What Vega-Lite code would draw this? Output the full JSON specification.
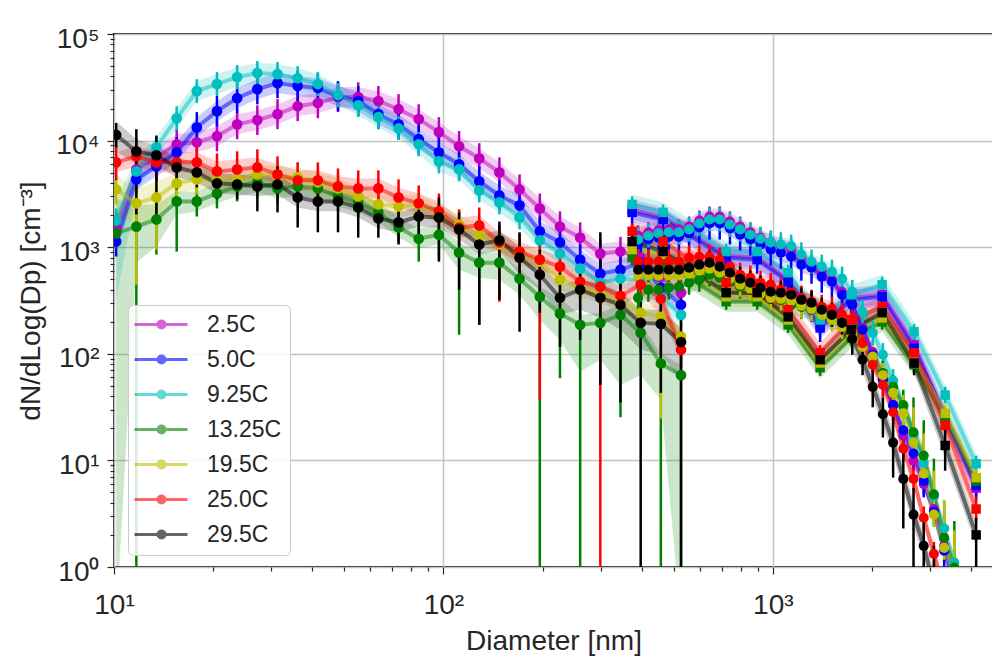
{
"$schema":"https://vega.github.io/schema/vega-lite/v6.json",
"width":879,"height":533,
"autosize":{"type":"none"},
"padding":{"left":114,"top":34,"right":0,"bottom":89},
"background":"white",
"config":{"view":{"stroke":"#262626","strokeWidth":2},"font":"Liberation Sans","axis":{"domain":false}},
"datasets":{"d":[
{"s":"2.5C","k":"a","x":10.15,"y":1500,"l":1080,"h":2070,"b0":1200,"b1":1860},
{"s":"2.5C","k":"a","x":11.69,"y":5370,"l":3880,"h":7430,"b0":4330,"b1":6670},
{"s":"2.5C","k":"a","x":13.45,"y":7120,"l":5140,"h":9870,"b0":5730,"b1":8840},
{"s":"2.5C","k":"a","x":15.5,"y":9230,"l":6670,"h":12800,"b0":7430,"b1":11500},
{"s":"2.5C","k":"a","x":17.84,"y":9650,"l":6960,"h":13300,"b0":7760,"b1":12000},
{"s":"2.5C","k":"a","x":20.54,"y":11000,"l":7930,"h":15200,"b0":8840,"b1":13600},
{"s":"2.5C","k":"a","x":23.65,"y":14200,"l":10300,"h":19700,"b0":11500,"b1":17700},
{"s":"2.5C","k":"a","x":27.24,"y":15600,"l":11300,"h":21400,"b0":12500,"b1":19300},
{"s":"2.5C","k":"a","x":31.36,"y":17700,"l":12800,"h":24500,"b0":14200,"b1":21900},
{"s":"2.5C","k":"a","x":36.11,"y":21000,"l":15200,"h":29100,"b0":17000,"b1":26200},
{"s":"2.5C","k":"a","x":41.58,"y":22500,"l":16200,"h":31100,"b0":18100,"b1":27900},
{"s":"2.5C","k":"a","x":47.87,"y":25600,"l":18500,"h":35300,"b0":20500,"b1":31800},
{"s":"2.5C","k":"a","x":55.13,"y":25600,"l":18500,"h":35300,"b0":20500,"b1":31800},
{"s":"2.5C","k":"a","x":63.47,"y":23500,"l":17000,"h":32500,"b0":18900,"b1":29100},
{"s":"2.5C","k":"a","x":73.09,"y":19700,"l":14200,"h":27300,"b0":15900,"b1":24500},
{"s":"2.5C","k":"a","x":84.16,"y":15900,"l":11500,"h":21900,"b0":12800,"b1":19700},
{"s":"2.5C","k":"a","x":96.91,"y":12000,"l":8650,"h":16600,"b0":9650,"b1":14900},
{"s":"2.5C","k":"a","x":111.6,"y":8840,"l":6390,"h":12300,"b0":7120,"b1":11000},
{"s":"2.5C","k":"a","x":128.5,"y":6810,"l":4920,"h":9450,"b0":5480,"b1":8460},
{"s":"2.5C","k":"a","x":147.9,"y":5030,"l":3640,"h":6960,"b0":4060,"b1":6250},
{"s":"2.5C","k":"a","x":170.3,"y":3480,"l":2520,"h":4820,"b0":2810,"b1":4330},
{"s":"2.5C","k":"a","x":196.2,"y":2310,"l":1670,"h":3190,"b0":1860,"b1":2870},
{"s":"2.5C","k":"a","x":225.9,"y":1560,"l":1130,"h":2170,"b0":1250,"b1":1940},
{"s":"2.5C","k":"a","x":260.1,"y":1230,"l":890,"h":1710,"b0":995,"b1":1530},
{"s":"2.5C","k":"a","x":299.5,"y":871,"l":629,"h":1200,"b0":701,"b1":1080},
{"s":"2.5C","k":"a","x":344.8,"y":910,"l":657,"h":1250,"b0":732,"b1":1130},
{"s":"2.5C","k":"a","x":397.1,"y":799,"l":576,"h":1110,"b0":643,"b1":995},
{"s":"2.5C","k":"a","x":457.2,"y":529,"l":382,"h":732,"b0":426,"b1":657},
{"s":"2.5C","k":"a","x":526.5,"y":374,"l":270,"h":517,"b0":301,"b1":464},
{"s":"2.5C","k":"b","x":390,"y":1280,"l":1040,"h":1600,"b0":1080,"b1":1530},
{"s":"2.5C","k":"b","x":419,"y":1380,"l":1110,"h":1710,"b0":1160,"b1":1630},
{"s":"2.5C","k":"b","x":449.8,"y":1440,"l":1160,"h":1780,"b0":1200,"b1":1710},
{"s":"2.5C","k":"b","x":483.1,"y":1470,"l":1180,"h":1820,"b0":1230,"b1":1740},
{"s":"2.5C","k":"b","x":518.8,"y":1470,"l":1180,"h":1820,"b0":1230,"b1":1740},
{"s":"2.5C","k":"b","x":557,"y":1560,"l":1250,"h":1940,"b0":1310,"b1":1860},
{"s":"2.5C","k":"b","x":598.3,"y":1780,"l":1440,"h":2210,"b0":1500,"b1":2120},
{"s":"2.5C","k":"b","x":642.6,"y":1940,"l":1560,"h":2410,"b0":1630,"b1":2310},
{"s":"2.5C","k":"b","x":690,"y":1940,"l":1560,"h":2410,"b0":1630,"b1":2310},
{"s":"2.5C","k":"b","x":741.1,"y":1740,"l":1410,"h":2170,"b0":1470,"b1":2070},
{"s":"2.5C","k":"b","x":795.8,"y":1560,"l":1250,"h":1940,"b0":1310,"b1":1860},
{"s":"2.5C","k":"b","x":854.5,"y":1380,"l":1110,"h":1710,"b0":1160,"b1":1630},
{"s":"2.5C","k":"b","x":917.6,"y":1230,"l":995,"h":1530,"b0":1040,"b1":1470},
{"s":"2.5C","k":"b","x":985.6,"y":1110,"l":890,"h":1380,"b0":930,"b1":1310},
{"s":"2.5C","k":"b","x":1058,"y":1020,"l":817,"h":1250,"b0":853,"b1":1200},
{"s":"2.5C","k":"b","x":1137,"y":950,"l":764,"h":1180,"b0":799,"b1":1130},
{"s":"2.5C","k":"b","x":1221,"y":799,"l":643,"h":995,"b0":672,"b1":950},
{"s":"2.5C","k":"b","x":1311,"y":672,"l":540,"h":835,"b0":564,"b1":799},
{"s":"2.5C","k":"b","x":1408,"y":589,"l":474,"h":732,"b0":495,"b1":701},
{"s":"2.5C","k":"b","x":1512,"y":495,"l":399,"h":615,"b0":417,"b1":589},
{"s":"2.5C","k":"b","x":1623,"y":382,"l":308,"h":474,"b0":321,"b1":454},
{"s":"2.5C","k":"b","x":1743,"y":288,"l":232,"h":358,"b0":243,"b1":343},
{"s":"2.5C","k":"b","x":1873,"y":175,"l":141,"h":217,"b0":148,"b1":208},
{"s":"2.5C","k":"b","x":2011,"y":104,"l":84,"h":129,"b0":88,"b1":124},
{"s":"2.5C","k":"b","x":2159,"y":59,"l":48,"h":74,"b0":50,"b1":71},
{"s":"2.5C","k":"b","x":2319,"y":33,"l":26.5,"h":41,"b0":27.6,"b1":39},
{"s":"2.5C","k":"b","x":2490,"y":17.1,"l":13.8,"h":21.3,"b0":14.4,"b1":20.4},
{"s":"2.5C","k":"b","x":2674,"y":9.9,"l":8.0,"h":12.3,"b0":8.3,"b1":11.8},
{"s":"2.5C","k":"b","x":2872,"y":6.0,"l":4.8,"h":7.5,"b0":5.1,"b1":7.2},
{"s":"2.5C","k":"b","x":3084,"y":3.5,"l":2.8,"h":4.3,"b0":2.9,"b1":4.2},
{"s":"2.5C","k":"b","x":3313,"y":1.58,"l":1.27,"h":1.96,"b0":1.33,"b1":1.88},
{"s":"2.5C","k":"b","x":3557,"y":0.75,"l":0.6,"h":0.93,"b0":0.62,"b1":0.89},
{"s":"2.5C","k":"c","x":374,"y":2260,"l":1900,"h":2690,"b0":1820,"b1":2810},
{"s":"2.5C","k":"c","x":464.5,"y":1900,"l":1600,"h":2260,"b0":1530,"b1":2360},
{"s":"2.5C","k":"c","x":721.8,"y":835,"l":701,"h":995,"b0":672,"b1":1040},
{"s":"2.5C","k":"c","x":896.4,"y":799,"l":672,"h":950,"b0":643,"b1":995},
{"s":"2.5C","k":"c","x":1113,"y":495,"l":417,"h":589,"b0":399,"b1":615},
{"s":"2.5C","k":"c","x":1392,"y":187,"l":157,"h":222,"b0":151,"b1":232},
{"s":"2.5C","k":"c","x":1729,"y":335,"l":282,"h":399,"b0":270,"b1":417},
{"s":"2.5C","k":"c","x":2147,"y":358,"l":301,"h":426,"b0":288,"b1":445},
{"s":"2.5C","k":"c","x":2685,"y":121,"l":102,"h":145,"b0":98,"b1":151},
{"s":"2.5C","k":"c","x":3336,"y":24.8,"l":20.9,"h":29.5,"b0":20,"b1":30.8},
{"s":"2.5C","k":"c","x":4143,"y":5.5,"l":4.6,"h":6.6,"b0":4.4,"b1":6.9},
{"s":"5.0C","k":"a","x":10.15,"y":1130,"l":817,"h":1560,"b0":910,"b1":1410},
{"s":"5.0C","k":"a","x":11.69,"y":4330,"l":3130,"h":5980,"b0":3480,"b1":5370},
{"s":"5.0C","k":"a","x":13.45,"y":5730,"l":4150,"h":7930,"b0":4620,"b1":7120},
{"s":"5.0C","k":"a","x":15.5,"y":7760,"l":5600,"h":10800,"b0":6250,"b1":9650},
{"s":"5.0C","k":"a","x":17.84,"y":13300,"l":9650,"h":18500,"b0":10800,"b1":16600},
{"s":"5.0C","k":"a","x":20.54,"y":18900,"l":13600,"h":26200,"b0":15200,"b1":23500},
{"s":"5.0C","k":"a","x":23.65,"y":25000,"l":18100,"h":34600,"b0":20100,"b1":31100},
{"s":"5.0C","k":"a","x":27.24,"y":30400,"l":21900,"h":42000,"b0":24500,"b1":37700},
{"s":"5.0C","k":"a","x":31.36,"y":34600,"l":25000,"h":47900,"b0":27900,"b1":43000},
{"s":"5.0C","k":"a","x":36.11,"y":32500,"l":23500,"h":44900,"b0":26200,"b1":40200},
{"s":"5.0C","k":"a","x":41.58,"y":31100,"l":22500,"h":43000,"b0":25000,"b1":38500},
{"s":"5.0C","k":"a","x":47.87,"y":26200,"l":18900,"h":36100,"b0":21000,"b1":32500},
{"s":"5.0C","k":"a","x":55.13,"y":23500,"l":17000,"h":32500,"b0":18900,"b1":29100},
{"s":"5.0C","k":"a","x":63.47,"y":17700,"l":12800,"h":24500,"b0":14200,"b1":21900},
{"s":"5.0C","k":"a","x":73.09,"y":14200,"l":10300,"h":19700,"b0":11500,"b1":17700},
{"s":"5.0C","k":"a","x":84.16,"y":10300,"l":7430,"h":14200,"b0":8280,"b1":12800},
{"s":"5.0C","k":"a","x":96.91,"y":7760,"l":5600,"h":10800,"b0":6250,"b1":9650},
{"s":"5.0C","k":"a","x":111.6,"y":5980,"l":4330,"h":8280,"b0":4820,"b1":7430},
{"s":"5.0C","k":"a","x":128.5,"y":4150,"l":3000,"h":5730,"b0":3330,"b1":5140},
{"s":"5.0C","k":"a","x":147.9,"y":3060,"l":2210,"h":4240,"b0":2470,"b1":3800},
{"s":"5.0C","k":"a","x":170.3,"y":2470,"l":1780,"h":3410,"b0":1990,"b1":3060},
{"s":"5.0C","k":"a","x":196.2,"y":1410,"l":1020,"h":1940,"b0":1130,"b1":1740},
{"s":"5.0C","k":"a","x":225.9,"y":1110,"l":799,"h":1530,"b0":890,"b1":1380},
{"s":"5.0C","k":"a","x":260.1,"y":764,"l":552,"h":1060,"b0":615,"b1":950},
{"s":"5.0C","k":"a","x":299.5,"y":564,"l":408,"h":782,"b0":454,"b1":701},
{"s":"5.0C","k":"a","x":344.8,"y":615,"l":445,"h":853,"b0":495,"b1":764},
{"s":"5.0C","k":"a","x":397.1,"y":716,"l":517,"h":995,"b0":576,"b1":890},
{"s":"5.0C","k":"a","x":457.2,"y":417,"l":301,"h":576,"b0":335,"b1":517},
{"s":"5.0C","k":"a","x":526.5,"y":288,"l":208,"h":399,"b0":232,"b1":358},
{"s":"5.0C","k":"b","x":390,"y":1060,"l":748,"h":1250,"b0":890,"b1":1250},
{"s":"5.0C","k":"b","x":419,"y":1180,"l":835,"h":1410,"b0":995,"b1":1410},
{"s":"5.0C","k":"b","x":449.8,"y":1230,"l":871,"h":1470,"b0":1040,"b1":1470},
{"s":"5.0C","k":"b","x":483.1,"y":1250,"l":890,"h":1500,"b0":1060,"b1":1500},
{"s":"5.0C","k":"b","x":518.8,"y":1250,"l":890,"h":1500,"b0":1060,"b1":1500},
{"s":"5.0C","k":"b","x":557,"y":1350,"l":950,"h":1600,"b0":1130,"b1":1600},
{"s":"5.0C","k":"b","x":598.3,"y":1530,"l":1080,"h":1820,"b0":1280,"b1":1820},
{"s":"5.0C","k":"b","x":642.6,"y":1670,"l":1180,"h":1990,"b0":1410,"b1":1990},
{"s":"5.0C","k":"b","x":690,"y":1670,"l":1180,"h":1990,"b0":1410,"b1":1990},
{"s":"5.0C","k":"b","x":741.1,"y":1500,"l":1060,"h":1780,"b0":1250,"b1":1780},
{"s":"5.0C","k":"b","x":795.8,"y":1310,"l":930,"h":1560,"b0":1110,"b1":1560},
{"s":"5.0C","k":"b","x":854.5,"y":1180,"l":835,"h":1410,"b0":995,"b1":1410},
{"s":"5.0C","k":"b","x":917.6,"y":1060,"l":748,"h":1250,"b0":890,"b1":1250},
{"s":"5.0C","k":"b","x":985.6,"y":950,"l":672,"h":1130,"b0":799,"b1":1130},
{"s":"5.0C","k":"b","x":1058,"y":890,"l":629,"h":1060,"b0":748,"b1":1060},
{"s":"5.0C","k":"b","x":1137,"y":817,"l":576,"h":974,"b0":686,"b1":974},
{"s":"5.0C","k":"b","x":1221,"y":686,"l":485,"h":817,"b0":576,"b1":817},
{"s":"5.0C","k":"b","x":1311,"y":643,"l":454,"h":764,"b0":540,"b1":764},
{"s":"5.0C","k":"b","x":1408,"y":529,"l":374,"h":629,"b0":445,"b1":629},
{"s":"5.0C","k":"b","x":1512,"y":474,"l":335,"h":564,"b0":399,"b1":564},
{"s":"5.0C","k":"b","x":1623,"y":358,"l":254,"h":426,"b0":301,"b1":426},
{"s":"5.0C","k":"b","x":1743,"y":288,"l":204,"h":343,"b0":243,"b1":343},
{"s":"5.0C","k":"b","x":1873,"y":168,"l":118,"h":199,"b0":141,"b1":199},
{"s":"5.0C","k":"b","x":2011,"y":98,"l":69,"h":116,"b0":82,"b1":116},
{"s":"5.0C","k":"b","x":2159,"y":57,"l":40,"h":68,"b0":48,"b1":68},
{"s":"5.0C","k":"b","x":2319,"y":33,"l":23.3,"h":39,"b0":27.6,"b1":39},
{"s":"5.0C","k":"b","x":2490,"y":19.1,"l":13.5,"h":22.8,"b0":16.0,"b1":22.8},
{"s":"5.0C","k":"b","x":2674,"y":11.6,"l":8.2,"h":13.8,"b0":9.7,"b1":13.8},
{"s":"5.0C","k":"b","x":2872,"y":6.4,"l":4.5,"h":7.6,"b0":5.4,"b1":7.6},
{"s":"5.0C","k":"b","x":3084,"y":3.3,"l":2.4,"h":4.0,"b0":2.8,"b1":4.0},
{"s":"5.0C","k":"b","x":3313,"y":1.42,"l":1.01,"h":1.68,"b0":1.22,"b1":1.68},
{"s":"5.0C","k":"b","x":3557,"y":0.67,"l":0.5,"h":0.8,"b0":0.6,"b1":0.8},
{"s":"5.0C","k":"c","x":374,"y":2120,"l":1560,"h":2360,"b0":1710,"b1":2630},
{"s":"5.0C","k":"c","x":464.5,"y":1820,"l":1350,"h":2030,"b0":1470,"b1":2260},
{"s":"5.0C","k":"c","x":721.8,"y":799,"l":589,"h":890,"b0":643,"b1":995},
{"s":"5.0C","k":"c","x":896.4,"y":764,"l":564,"h":853,"b0":615,"b1":950},
{"s":"5.0C","k":"c","x":1113,"y":474,"l":350,"h":529,"b0":382,"b1":589},
{"s":"5.0C","k":"c","x":1392,"y":175,"l":129,"h":195,"b0":141,"b1":217},
{"s":"5.0C","k":"c","x":1729,"y":321,"l":238,"h":358,"b0":259,"b1":399},
{"s":"5.0C","k":"c","x":2147,"y":343,"l":254,"h":382,"b0":276,"b1":426},
{"s":"5.0C","k":"c","x":2685,"y":113,"l":84,"h":126,"b0":92,"b1":141},
{"s":"5.0C","k":"c","x":3336,"y":26.5,"l":19.5,"h":29.5,"b0":21.3,"b1":33},
{"s":"5.0C","k":"c","x":4143,"y":5.8,"l":4.2,"h":6.4,"b0":4.6,"b1":7.2},
{"s":"9.25C","k":"a","x":10.15,"y":1780,"l":1380,"h":2310,"b0":321,"b1":2810},
{"s":"9.25C","k":"a","x":11.69,"y":5140,"l":3970,"h":6670,"b0":3130,"b1":6670},
{"s":"9.25C","k":"a","x":13.45,"y":8650,"l":6670,"h":11300,"b0":6960,"b1":10800},
{"s":"9.25C","k":"a","x":15.5,"y":16200,"l":12500,"h":21000,"b0":13000,"b1":20100},
{"s":"9.25C","k":"a","x":17.84,"y":29100,"l":22500,"h":37700,"b0":23500,"b1":36100},
{"s":"9.25C","k":"a","x":20.54,"y":33900,"l":26200,"h":43900,"b0":27300,"b1":42000},
{"s":"9.25C","k":"a","x":23.65,"y":39400,"l":30400,"h":51100,"b0":31800,"b1":49000},
{"s":"9.25C","k":"a","x":27.24,"y":43000,"l":33200,"h":55800,"b0":34600,"b1":53400},
{"s":"9.25C","k":"a","x":31.36,"y":42000,"l":32500,"h":54600,"b0":33900,"b1":52300},
{"s":"9.25C","k":"a","x":36.11,"y":38500,"l":29800,"h":50000,"b0":31100,"b1":47900},
{"s":"9.25C","k":"a","x":41.58,"y":33900,"l":26200,"h":43900,"b0":27300,"b1":42000},
{"s":"9.25C","k":"a","x":47.87,"y":26700,"l":20500,"h":34600,"b0":21400,"b1":33200},
{"s":"9.25C","k":"a","x":55.13,"y":21400,"l":16600,"h":27900,"b0":17300,"b1":26700},
{"s":"9.25C","k":"a","x":63.47,"y":16600,"l":12800,"h":21400,"b0":13300,"b1":20500},
{"s":"9.25C","k":"a","x":73.09,"y":13000,"l":10100,"h":17000,"b0":10500,"b1":16200},
{"s":"9.25C","k":"a","x":84.16,"y":9230,"l":7120,"h":12000,"b0":7430,"b1":11500},
{"s":"9.25C","k":"a","x":96.91,"y":6390,"l":4920,"h":8280,"b0":5140,"b1":7930},
{"s":"9.25C","k":"a","x":111.6,"y":5370,"l":4150,"h":6960,"b0":4330,"b1":6670},
{"s":"9.25C","k":"a","x":128.5,"y":3410,"l":2630,"h":4420,"b0":2750,"b1":4240},
{"s":"9.25C","k":"a","x":147.9,"y":2630,"l":2030,"h":3410,"b0":2120,"b1":3260},
{"s":"9.25C","k":"a","x":170.3,"y":1900,"l":1470,"h":2470,"b0":1530,"b1":2360},
{"s":"9.25C","k":"a","x":196.2,"y":1160,"l":890,"h":1500,"b0":930,"b1":1440},
{"s":"9.25C","k":"a","x":225.9,"y":871,"l":672,"h":1130,"b0":701,"b1":1080},
{"s":"9.25C","k":"a","x":260.1,"y":629,"l":485,"h":817,"b0":506,"b1":782},
{"s":"9.25C","k":"a","x":299.5,"y":464,"l":358,"h":602,"b0":374,"b1":576},
{"s":"9.25C","k":"a","x":344.8,"y":506,"l":391,"h":657,"b0":408,"b1":629},
{"s":"9.25C","k":"a","x":397.1,"y":495,"l":382,"h":643,"b0":399,"b1":615},
{"s":"9.25C","k":"a","x":457.2,"y":335,"l":259,"h":436,"b0":270,"b1":417},
{"s":"9.25C","k":"a","x":526.5,"y":232,"l":179,"h":301,"b0":187,"b1":288},
{"s":"9.25C","k":"b","x":390,"y":1180,"l":910,"h":1530,"b0":995,"b1":1410},
{"s":"9.25C","k":"b","x":419,"y":1280,"l":995,"h":1670,"b0":1080,"b1":1530},
{"s":"9.25C","k":"b","x":449.8,"y":1350,"l":1040,"h":1740,"b0":1130,"b1":1600},
{"s":"9.25C","k":"b","x":483.1,"y":1380,"l":1060,"h":1780,"b0":1160,"b1":1630},
{"s":"9.25C","k":"b","x":518.8,"y":1380,"l":1060,"h":1780,"b0":1160,"b1":1630},
{"s":"9.25C","k":"b","x":557,"y":1470,"l":1130,"h":1900,"b0":1230,"b1":1740},
{"s":"9.25C","k":"b","x":598.3,"y":1670,"l":1280,"h":2170,"b0":1410,"b1":1990},
{"s":"9.25C","k":"b","x":642.6,"y":1820,"l":1410,"h":2360,"b0":1530,"b1":2170},
{"s":"9.25C","k":"b","x":690,"y":1820,"l":1410,"h":2360,"b0":1530,"b1":2170},
{"s":"9.25C","k":"b","x":741.1,"y":1630,"l":1250,"h":2120,"b0":1380,"b1":1940},
{"s":"9.25C","k":"b","x":795.8,"y":1470,"l":1130,"h":1900,"b0":1230,"b1":1740},
{"s":"9.25C","k":"b","x":854.5,"y":1310,"l":1020,"h":1710,"b0":1110,"b1":1560},
{"s":"9.25C","k":"b","x":917.6,"y":1200,"l":930,"h":1560,"b0":1020,"b1":1440},
{"s":"9.25C","k":"b","x":985.6,"y":1110,"l":853,"h":1440,"b0":930,"b1":1310},
{"s":"9.25C","k":"b","x":1058,"y":1060,"l":817,"h":1380,"b0":890,"b1":1250},
{"s":"9.25C","k":"b","x":1137,"y":1020,"l":782,"h":1310,"b0":853,"b1":1200},
{"s":"9.25C","k":"b","x":1221,"y":853,"l":657,"h":1110,"b0":716,"b1":1020},
{"s":"9.25C","k":"b","x":1311,"y":732,"l":564,"h":950,"b0":615,"b1":871},
{"s":"9.25C","k":"b","x":1408,"y":657,"l":506,"h":853,"b0":552,"b1":782},
{"s":"9.25C","k":"b","x":1512,"y":589,"l":454,"h":764,"b0":495,"b1":701},
{"s":"9.25C","k":"b","x":1623,"y":506,"l":391,"h":657,"b0":426,"b1":602},
{"s":"9.25C","k":"b","x":1743,"y":382,"l":294,"h":495,"b0":321,"b1":454},
{"s":"9.25C","k":"b","x":1873,"y":248,"l":191,"h":321,"b0":208,"b1":294},
{"s":"9.25C","k":"b","x":2011,"y":157,"l":121,"h":204,"b0":132,"b1":187},
{"s":"9.25C","k":"b","x":2159,"y":98,"l":76,"h":126,"b0":82,"b1":116},
{"s":"9.25C","k":"b","x":2319,"y":56,"l":43,"h":72,"b0":47,"b1":66},
{"s":"9.25C","k":"b","x":2490,"y":31.5,"l":24.3,"h":41,"b0":26.5,"b1":37.6},
{"s":"9.25C","k":"b","x":2674,"y":17.1,"l":13.2,"h":22.3,"b0":14.4,"b1":20.4},
{"s":"9.25C","k":"b","x":2872,"y":9.5,"l":7.5,"h":12.3,"b0":8.0,"b1":11.3},
{"s":"9.25C","k":"b","x":3084,"y":4.6,"l":3.6,"h":6.0,"b0":3.9,"b1":5.5},
{"s":"9.25C","k":"b","x":3313,"y":2.3,"l":1.76,"h":2.9,"b0":1.92,"b1":2.7},
{"s":"9.25C","k":"b","x":3557,"y":1.1,"l":0.85,"h":1.42,"b0":0.93,"b1":1.3},
{"s":"9.25C","k":"c","x":374,"y":2520,"l":2120,"h":3000,"b0":2030,"b1":3130},
{"s":"9.25C","k":"c","x":464.5,"y":2120,"l":1780,"h":2520,"b0":1710,"b1":2630},
{"s":"9.25C","k":"c","x":721.8,"y":910,"l":764,"h":1080,"b0":732,"b1":1130},
{"s":"9.25C","k":"c","x":896.4,"y":910,"l":764,"h":1080,"b0":732,"b1":1130},
{"s":"9.25C","k":"c","x":1113,"y":576,"l":485,"h":686,"b0":464,"b1":716},
{"s":"9.25C","k":"c","x":1392,"y":208,"l":175,"h":248,"b0":168,"b1":259},
{"s":"9.25C","k":"c","x":1729,"y":358,"l":301,"h":426,"b0":288,"b1":445},
{"s":"9.25C","k":"c","x":2147,"y":445,"l":374,"h":529,"b0":358,"b1":552},
{"s":"9.25C","k":"c","x":2685,"y":161,"l":135,"h":191,"b0":129,"b1":199},
{"s":"9.25C","k":"c","x":3336,"y":41,"l":34.3,"h":49,"b0":33,"b1":51},
{"s":"9.25C","k":"c","x":4143,"y":9.3,"l":7.8,"h":11.1,"b0":7.5,"b1":11.6},
{"s":"13.25C","k":"a","x":10.15,"y":1350,"l":974,"h":1860,"b0":0.3,"b1":2810},
{"s":"13.25C","k":"a","x":11.69,"y":1560,"l":0.3,"h":2810,"b0":716,"b1":2520},
{"s":"13.25C","k":"a","x":13.45,"y":1820,"l":853,"h":3480,"b0":1020,"b1":2520},
{"s":"13.25C","k":"a","x":15.5,"y":2690,"l":910,"h":4820,"b0":2030,"b1":3330},
{"s":"13.25C","k":"a","x":17.84,"y":2690,"l":1940,"h":3720,"b0":2170,"b1":3330},
{"s":"13.25C","k":"a","x":20.54,"y":3190,"l":2310,"h":4420,"b0":2580,"b1":3970},
{"s":"13.25C","k":"a","x":23.65,"y":3720,"l":2690,"h":5140,"b0":3000,"b1":4620},
{"s":"13.25C","k":"a","x":27.24,"y":4060,"l":2930,"h":5600,"b0":3260,"b1":5030},
{"s":"13.25C","k":"a","x":31.36,"y":3560,"l":2580,"h":4920,"b0":2870,"b1":4420},
{"s":"13.25C","k":"a","x":36.11,"y":3720,"l":2690,"h":5140,"b0":3000,"b1":4620},
{"s":"13.25C","k":"a","x":41.58,"y":3560,"l":2580,"h":4920,"b0":2870,"b1":4420},
{"s":"13.25C","k":"a","x":47.87,"y":3000,"l":2170,"h":4150,"b0":2410,"b1":3720},
{"s":"13.25C","k":"a","x":55.13,"y":2630,"l":1900,"h":3640,"b0":2120,"b1":3260},
{"s":"13.25C","k":"a","x":63.47,"y":2120,"l":1530,"h":2930,"b0":1710,"b1":2630},
{"s":"13.25C","k":"a","x":73.09,"y":1530,"l":1110,"h":2120,"b0":1230,"b1":1900},
{"s":"13.25C","k":"a","x":84.16,"y":1200,"l":732,"h":1710,"b0":974,"b1":1500},
{"s":"13.25C","k":"a","x":96.91,"y":1310,"l":764,"h":1940,"b0":1060,"b1":1630},
{"s":"13.25C","k":"a","x":111.6,"y":890,"l":151,"h":1310,"b0":615,"b1":1110},
{"s":"13.25C","k":"a","x":128.5,"y":716,"l":187,"h":1060,"b0":517,"b1":890},
{"s":"13.25C","k":"a","x":147.9,"y":716,"l":321,"h":1060,"b0":495,"b1":890},
{"s":"13.25C","k":"a","x":170.3,"y":506,"l":328,"h":782,"b0":358,"b1":629},
{"s":"13.25C","k":"a","x":196.2,"y":343,"l":0.3,"h":529,"b0":208,"b1":426},
{"s":"13.25C","k":"a","x":225.9,"y":238,"l":59,"h":408,"b0":135,"b1":328},
{"s":"13.25C","k":"a","x":260.1,"y":187,"l":0.3,"h":288,"b0":68,"b1":232},
{"s":"13.25C","k":"a","x":299.5,"y":195,"l":126,"h":301,"b0":88,"b1":243},
{"s":"13.25C","k":"a","x":344.8,"y":232,"l":25.4,"h":358,"b0":51,"b1":288},
{"s":"13.25C","k":"a","x":397.1,"y":157,"l":102,"h":243,"b0":63,"b1":195},
{"s":"13.25C","k":"a","x":457.2,"y":81,"l":0.3,"h":124,"b0":37,"b1":100},
{"s":"13.25C","k":"a","x":526.5,"y":63,"l":0.3,"h":98,"b0":0.3,"b1":79},
{"s":"13.25C","k":"b","x":390,"y":335,"l":259,"h":436,"b0":270,"b1":417},
{"s":"13.25C","k":"b","x":419,"y":399,"l":308,"h":517,"b0":321,"b1":495},
{"s":"13.25C","k":"b","x":449.8,"y":399,"l":308,"h":517,"b0":321,"b1":495},
{"s":"13.25C","k":"b","x":483.1,"y":417,"l":321,"h":540,"b0":335,"b1":517},
{"s":"13.25C","k":"b","x":518.8,"y":426,"l":328,"h":552,"b0":343,"b1":529},
{"s":"13.25C","k":"b","x":557,"y":464,"l":358,"h":602,"b0":374,"b1":576},
{"s":"13.25C","k":"b","x":598.3,"y":495,"l":382,"h":643,"b0":399,"b1":615},
{"s":"13.25C","k":"b","x":642.6,"y":552,"l":426,"h":716,"b0":445,"b1":686},
{"s":"13.25C","k":"b","x":690,"y":517,"l":399,"h":672,"b0":417,"b1":643},
{"s":"13.25C","k":"b","x":741.1,"y":474,"l":366,"h":615,"b0":382,"b1":589},
{"s":"13.25C","k":"b","x":795.8,"y":426,"l":328,"h":552,"b0":343,"b1":529},
{"s":"13.25C","k":"b","x":854.5,"y":417,"l":321,"h":540,"b0":335,"b1":517},
{"s":"13.25C","k":"b","x":917.6,"y":382,"l":294,"h":495,"b0":308,"b1":474},
{"s":"13.25C","k":"b","x":985.6,"y":350,"l":270,"h":454,"b0":282,"b1":436},
{"s":"13.25C","k":"b","x":1058,"y":321,"l":248,"h":417,"b0":259,"b1":399},
{"s":"13.25C","k":"b","x":1137,"y":288,"l":222,"h":374,"b0":232,"b1":358},
{"s":"13.25C","k":"b","x":1221,"y":276,"l":213,"h":358,"b0":222,"b1":343},
{"s":"13.25C","k":"b","x":1311,"y":259,"l":199,"h":335,"b0":208,"b1":321},
{"s":"13.25C","k":"b","x":1408,"y":243,"l":187,"h":314,"b0":195,"b1":301},
{"s":"13.25C","k":"b","x":1512,"y":217,"l":168,"h":282,"b0":175,"b1":270},
{"s":"13.25C","k":"b","x":1623,"y":199,"l":154,"h":259,"b0":161,"b1":248},
{"s":"13.25C","k":"b","x":1743,"y":187,"l":145,"h":243,"b0":151,"b1":232},
{"s":"13.25C","k":"b","x":1873,"y":121,"l":94,"h":157,"b0":98,"b1":151},
{"s":"13.25C","k":"b","x":2011,"y":88,"l":68,"h":113,"b0":71,"b1":109},
{"s":"13.25C","k":"b","x":2159,"y":66,"l":51,"h":86,"b0":53,"b1":82},
{"s":"13.25C","k":"b","x":2319,"y":49,"l":37.6,"h":63,"b0":39,"b1":61},
{"s":"13.25C","k":"b","x":2490,"y":33,"l":25.4,"h":46,"b0":26.5,"b1":41},
{"s":"13.25C","k":"b","x":2674,"y":18.3,"l":13.2,"h":39,"b0":14.7,"b1":22.8},
{"s":"13.25C","k":"b","x":2872,"y":11.1,"l":8.0,"h":23.8,"b0":8.9,"b1":13.8},
{"s":"13.25C","k":"b","x":3084,"y":4.8,"l":3.5,"h":10.4,"b0":3.9,"b1":6.0},
{"s":"13.25C","k":"b","x":3313,"y":1.88,"l":1.36,"h":4.2,"b0":1.51,"b1":2.3},
{"s":"13.25C","k":"b","x":3557,"y":0.99,"l":0.7,"h":2.7,"b0":0.78,"b1":1.22},
{"s":"13.25C","k":"c","x":374,"y":799,"l":672,"h":950,"b0":643,"b1":995},
{"s":"13.25C","k":"c","x":464.5,"y":732,"l":615,"h":871,"b0":589,"b1":910},
{"s":"13.25C","k":"c","x":721.8,"y":308,"l":259,"h":366,"b0":248,"b1":382},
{"s":"13.25C","k":"c","x":896.4,"y":308,"l":259,"h":366,"b0":248,"b1":382},
{"s":"13.25C","k":"c","x":1113,"y":187,"l":157,"h":222,"b0":151,"b1":232},
{"s":"13.25C","k":"c","x":1392,"y":74,"l":62,"h":88,"b0":59,"b1":92},
{"s":"13.25C","k":"c","x":1729,"y":141,"l":118,"h":168,"b0":113,"b1":175},
{"s":"13.25C","k":"c","x":2147,"y":199,"l":168,"h":238,"b0":161,"b1":248},
{"s":"13.25C","k":"c","x":2685,"y":79,"l":66,"h":94,"b0":63,"b1":98},
{"s":"13.25C","k":"c","x":3336,"y":24.8,"l":20.9,"h":29.5,"b0":20,"b1":30.8},
{"s":"13.25C","k":"c","x":4143,"y":6.4,"l":5.4,"h":7.6,"b0":5.2,"b1":8.0},
{"s":"19.5C","k":"a","x":10.15,"y":3480,"l":2520,"h":4820,"b0":2030,"b1":4820},
{"s":"19.5C","k":"a","x":11.69,"y":2580,"l":445,"h":4330,"b0":1630,"b1":3480},
{"s":"19.5C","k":"a","x":13.45,"y":2930,"l":950,"h":3880,"b0":1820,"b1":4150},
{"s":"19.5C","k":"a","x":15.5,"y":3970,"l":2870,"h":5480,"b0":3190,"b1":4920},
{"s":"19.5C","k":"a","x":17.84,"y":4330,"l":3130,"h":5980,"b0":3480,"b1":5370},
{"s":"19.5C","k":"a","x":20.54,"y":4330,"l":3130,"h":5980,"b0":3480,"b1":5370},
{"s":"19.5C","k":"a","x":23.65,"y":4330,"l":3130,"h":5980,"b0":3480,"b1":5370},
{"s":"19.5C","k":"a","x":27.24,"y":4820,"l":3480,"h":6670,"b0":3880,"b1":5980},
{"s":"19.5C","k":"a","x":31.36,"y":4620,"l":3330,"h":6390,"b0":3720,"b1":5730},
{"s":"19.5C","k":"a","x":36.11,"y":4520,"l":3260,"h":6250,"b0":3640,"b1":5600},
{"s":"19.5C","k":"a","x":41.58,"y":4060,"l":2930,"h":5600,"b0":3260,"b1":5030},
{"s":"19.5C","k":"a","x":47.87,"y":3560,"l":2580,"h":4920,"b0":2870,"b1":4420},
{"s":"19.5C","k":"a","x":55.13,"y":3000,"l":2170,"h":4150,"b0":2410,"b1":3720},
{"s":"19.5C","k":"a","x":63.47,"y":2520,"l":1820,"h":3480,"b0":2030,"b1":3130},
{"s":"19.5C","k":"a","x":73.09,"y":2410,"l":1740,"h":3330,"b0":1940,"b1":3000},
{"s":"19.5C","k":"a","x":84.16,"y":2520,"l":1820,"h":3480,"b0":2030,"b1":3130},
{"s":"19.5C","k":"a","x":96.91,"y":2030,"l":1470,"h":2810,"b0":1630,"b1":2520},
{"s":"19.5C","k":"a","x":111.6,"y":1630,"l":1180,"h":2260,"b0":1310,"b1":2030},
{"s":"19.5C","k":"a","x":128.5,"y":1310,"l":950,"h":1820,"b0":1060,"b1":1630},
{"s":"19.5C","k":"a","x":147.9,"y":1060,"l":764,"h":1470,"b0":853,"b1":1310},
{"s":"19.5C","k":"a","x":170.3,"y":853,"l":615,"h":1180,"b0":686,"b1":1060},
{"s":"19.5C","k":"a","x":196.2,"y":732,"l":529,"h":1020,"b0":589,"b1":910},
{"s":"19.5C","k":"a","x":225.9,"y":495,"l":358,"h":686,"b0":399,"b1":615},
{"s":"19.5C","k":"a","x":260.1,"y":417,"l":301,"h":576,"b0":335,"b1":517},
{"s":"19.5C","k":"a","x":299.5,"y":374,"l":270,"h":517,"b0":301,"b1":464},
{"s":"19.5C","k":"a","x":344.8,"y":308,"l":222,"h":426,"b0":248,"b1":382},
{"s":"19.5C","k":"a","x":397.1,"y":243,"l":175,"h":335,"b0":195,"b1":301},
{"s":"19.5C","k":"a","x":457.2,"y":222,"l":24.8,"h":308,"b0":179,"b1":276},
{"s":"19.5C","k":"a","x":526.5,"y":145,"l":104,"h":199,"b0":116,"b1":179},
{"s":"19.5C","k":"b","x":390,"y":540,"l":417,"h":701,"b0":454,"b1":643},
{"s":"19.5C","k":"b","x":419,"y":540,"l":417,"h":701,"b0":454,"b1":643},
{"s":"19.5C","k":"b","x":449.8,"y":540,"l":417,"h":701,"b0":454,"b1":643},
{"s":"19.5C","k":"b","x":483.1,"y":540,"l":417,"h":701,"b0":454,"b1":643},
{"s":"19.5C","k":"b","x":518.8,"y":540,"l":417,"h":701,"b0":454,"b1":643},
{"s":"19.5C","k":"b","x":557,"y":564,"l":436,"h":732,"b0":474,"b1":672},
{"s":"19.5C","k":"b","x":598.3,"y":602,"l":464,"h":782,"b0":506,"b1":716},
{"s":"19.5C","k":"b","x":642.6,"y":629,"l":485,"h":817,"b0":529,"b1":748},
{"s":"19.5C","k":"b","x":690,"y":576,"l":445,"h":748,"b0":485,"b1":686},
{"s":"19.5C","k":"b","x":741.1,"y":506,"l":391,"h":657,"b0":426,"b1":602},
{"s":"19.5C","k":"b","x":795.8,"y":445,"l":343,"h":576,"b0":374,"b1":529},
{"s":"19.5C","k":"b","x":854.5,"y":408,"l":314,"h":529,"b0":343,"b1":485},
{"s":"19.5C","k":"b","x":917.6,"y":366,"l":282,"h":474,"b0":308,"b1":436},
{"s":"19.5C","k":"b","x":985.6,"y":335,"l":259,"h":436,"b0":282,"b1":399},
{"s":"19.5C","k":"b","x":1058,"y":328,"l":254,"h":426,"b0":276,"b1":391},
{"s":"19.5C","k":"b","x":1137,"y":314,"l":243,"h":408,"b0":264,"b1":374},
{"s":"19.5C","k":"b","x":1221,"y":282,"l":217,"h":366,"b0":238,"b1":335},
{"s":"19.5C","k":"b","x":1311,"y":264,"l":204,"h":343,"b0":222,"b1":314},
{"s":"19.5C","k":"b","x":1408,"y":232,"l":179,"h":301,"b0":195,"b1":276},
{"s":"19.5C","k":"b","x":1512,"y":208,"l":161,"h":270,"b0":175,"b1":248},
{"s":"19.5C","k":"b","x":1623,"y":179,"l":138,"h":232,"b0":151,"b1":213},
{"s":"19.5C","k":"b","x":1743,"y":151,"l":116,"h":195,"b0":126,"b1":179},
{"s":"19.5C","k":"b","x":1873,"y":116,"l":90,"h":151,"b0":98,"b1":138},
{"s":"19.5C","k":"b","x":2011,"y":94,"l":72,"h":121,"b0":79,"b1":111},
{"s":"19.5C","k":"b","x":2159,"y":63,"l":49,"h":82,"b0":53,"b1":76},
{"s":"19.5C","k":"b","x":2319,"y":43,"l":33,"h":56,"b0":36,"b1":51},
{"s":"19.5C","k":"b","x":2490,"y":27.6,"l":21.3,"h":41,"b0":23.3,"b1":33},
{"s":"19.5C","k":"b","x":2674,"y":14.7,"l":11.3,"h":31.5,"b0":12.3,"b1":17.5},
{"s":"19.5C","k":"b","x":2872,"y":7.5,"l":5.8,"h":17.9,"b0":6.3,"b1":8.9},
{"s":"19.5C","k":"b","x":3084,"y":3.1,"l":2.4,"h":8.0,"b0":2.6,"b1":3.7},
{"s":"19.5C","k":"b","x":3313,"y":1.51,"l":1.17,"h":4.2,"b0":1.27,"b1":1.8},
{"s":"19.5C","k":"b","x":3557,"y":0.83,"l":0.65,"h":2.2,"b0":0.7,"b1":0.99},
{"s":"19.5C","k":"c","x":374,"y":950,"l":799,"h":1130,"b0":764,"b1":1180},
{"s":"19.5C","k":"c","x":464.5,"y":853,"l":716,"h":1020,"b0":686,"b1":1060},
{"s":"19.5C","k":"c","x":721.8,"y":343,"l":288,"h":408,"b0":276,"b1":426},
{"s":"19.5C","k":"c","x":896.4,"y":343,"l":288,"h":408,"b0":276,"b1":426},
{"s":"19.5C","k":"c","x":1113,"y":208,"l":175,"h":248,"b0":168,"b1":259},
{"s":"19.5C","k":"c","x":1392,"y":82,"l":69,"h":98,"b0":66,"b1":102},
{"s":"19.5C","k":"c","x":1729,"y":157,"l":132,"h":187,"b0":126,"b1":195},
{"s":"19.5C","k":"c","x":2147,"y":217,"l":183,"h":259,"b0":175,"b1":270},
{"s":"19.5C","k":"c","x":2685,"y":92,"l":77,"h":109,"b0":74,"b1":113},
{"s":"19.5C","k":"c","x":3336,"y":27.6,"l":23.3,"h":33,"b0":22.3,"b1":34.3},
{"s":"19.5C","k":"c","x":4143,"y":6.9,"l":5.8,"h":8.2,"b0":5.5,"b1":8.5},
{"s":"25.0C","k":"a","x":10.15,"y":6250,"l":4240,"h":9230,"b0":5030,"b1":7760},
{"s":"25.0C","k":"a","x":11.69,"y":7120,"l":4820,"h":10500,"b0":5730,"b1":8840},
{"s":"25.0C","k":"a","x":13.45,"y":6250,"l":4240,"h":9230,"b0":5030,"b1":7760},
{"s":"25.0C","k":"a","x":15.5,"y":6250,"l":4240,"h":9230,"b0":5030,"b1":7760},
{"s":"25.0C","k":"a","x":17.84,"y":6250,"l":4240,"h":9230,"b0":5030,"b1":7760},
{"s":"25.0C","k":"a","x":20.54,"y":5140,"l":3480,"h":7590,"b0":4150,"b1":6390},
{"s":"25.0C","k":"a","x":23.65,"y":5370,"l":3640,"h":7930,"b0":4330,"b1":6670},
{"s":"25.0C","k":"a","x":27.24,"y":5600,"l":3800,"h":8280,"b0":4520,"b1":6960},
{"s":"25.0C","k":"a","x":31.36,"y":4820,"l":3260,"h":7120,"b0":3880,"b1":5980},
{"s":"25.0C","k":"a","x":36.11,"y":4240,"l":2870,"h":6250,"b0":3410,"b1":5260},
{"s":"25.0C","k":"a","x":41.58,"y":4240,"l":2870,"h":6250,"b0":3410,"b1":5260},
{"s":"25.0C","k":"a","x":47.87,"y":3720,"l":2520,"h":5480,"b0":3000,"b1":4620},
{"s":"25.0C","k":"a","x":55.13,"y":3560,"l":2410,"h":5260,"b0":2870,"b1":4420},
{"s":"25.0C","k":"a","x":63.47,"y":3560,"l":2410,"h":5260,"b0":2870,"b1":4420},
{"s":"25.0C","k":"a","x":73.09,"y":2930,"l":1990,"h":4330,"b0":2360,"b1":3640},
{"s":"25.0C","k":"a","x":84.16,"y":2580,"l":1740,"h":3800,"b0":2070,"b1":3190},
{"s":"25.0C","k":"a","x":96.91,"y":2170,"l":1470,"h":3190,"b0":1740,"b1":2690},
{"s":"25.0C","k":"a","x":111.6,"y":1530,"l":1040,"h":2260,"b0":1230,"b1":1900},
{"s":"25.0C","k":"a","x":128.5,"y":1600,"l":1080,"h":2360,"b0":1280,"b1":1990},
{"s":"25.0C","k":"a","x":147.9,"y":1110,"l":308,"h":1630,"b0":890,"b1":1380},
{"s":"25.0C","k":"a","x":170.3,"y":910,"l":615,"h":1350,"b0":732,"b1":1130},
{"s":"25.0C","k":"a","x":196.2,"y":764,"l":37,"h":1130,"b0":615,"b1":950},
{"s":"25.0C","k":"a","x":225.9,"y":657,"l":445,"h":974,"b0":529,"b1":817},
{"s":"25.0C","k":"a","x":260.1,"y":474,"l":321,"h":701,"b0":382,"b1":589},
{"s":"25.0C","k":"a","x":299.5,"y":426,"l":0.3,"h":629,"b0":343,"b1":529},
{"s":"25.0C","k":"a","x":344.8,"y":350,"l":238,"h":517,"b0":282,"b1":436},
{"s":"25.0C","k":"a","x":397.1,"y":445,"l":301,"h":657,"b0":358,"b1":552},
{"s":"25.0C","k":"a","x":457.2,"y":328,"l":222,"h":485,"b0":238,"b1":408},
{"s":"25.0C","k":"a","x":526.5,"y":109,"l":74,"h":161,"b0":88,"b1":135},
{"s":"25.0C","k":"b","x":390,"y":732,"l":564,"h":950,"b0":615,"b1":871},
{"s":"25.0C","k":"b","x":419,"y":732,"l":564,"h":950,"b0":615,"b1":871},
{"s":"25.0C","k":"b","x":449.8,"y":732,"l":564,"h":950,"b0":615,"b1":871},
{"s":"25.0C","k":"b","x":483.1,"y":732,"l":564,"h":950,"b0":615,"b1":871},
{"s":"25.0C","k":"b","x":518.8,"y":732,"l":564,"h":950,"b0":615,"b1":871},
{"s":"25.0C","k":"b","x":557,"y":799,"l":615,"h":1040,"b0":672,"b1":950},
{"s":"25.0C","k":"b","x":598.3,"y":817,"l":629,"h":1060,"b0":686,"b1":974},
{"s":"25.0C","k":"b","x":642.6,"y":817,"l":629,"h":1060,"b0":686,"b1":974},
{"s":"25.0C","k":"b","x":690,"y":764,"l":589,"h":995,"b0":643,"b1":910},
{"s":"25.0C","k":"b","x":741.1,"y":657,"l":506,"h":853,"b0":552,"b1":782},
{"s":"25.0C","k":"b","x":795.8,"y":552,"l":426,"h":716,"b0":464,"b1":657},
{"s":"25.0C","k":"b","x":854.5,"y":517,"l":399,"h":672,"b0":436,"b1":615},
{"s":"25.0C","k":"b","x":917.6,"y":464,"l":358,"h":602,"b0":391,"b1":552},
{"s":"25.0C","k":"b","x":985.6,"y":445,"l":343,"h":576,"b0":374,"b1":529},
{"s":"25.0C","k":"b","x":1058,"y":399,"l":308,"h":517,"b0":335,"b1":474},
{"s":"25.0C","k":"b","x":1137,"y":374,"l":288,"h":485,"b0":314,"b1":445},
{"s":"25.0C","k":"b","x":1221,"y":335,"l":259,"h":436,"b0":282,"b1":399},
{"s":"25.0C","k":"b","x":1311,"y":308,"l":238,"h":399,"b0":259,"b1":366},
{"s":"25.0C","k":"b","x":1408,"y":276,"l":213,"h":358,"b0":232,"b1":328},
{"s":"25.0C","k":"b","x":1512,"y":264,"l":204,"h":343,"b0":222,"b1":314},
{"s":"25.0C","k":"b","x":1623,"y":232,"l":179,"h":301,"b0":195,"b1":276},
{"s":"25.0C","k":"b","x":1743,"y":208,"l":161,"h":270,"b0":175,"b1":248},
{"s":"25.0C","k":"b","x":1873,"y":126,"l":98,"h":164,"b0":107,"b1":151},
{"s":"25.0C","k":"b","x":2011,"y":79,"l":61,"h":102,"b0":66,"b1":94},
{"s":"25.0C","k":"b","x":2159,"y":51,"l":39,"h":66,"b0":43,"b1":61},
{"s":"25.0C","k":"b","x":2319,"y":28.3,"l":21.8,"h":37,"b0":23.8,"b1":33.6},
{"s":"25.0C","k":"b","x":2490,"y":12.9,"l":9.9,"h":16.8,"b0":10.8,"b1":15.4},
{"s":"25.0C","k":"b","x":2674,"y":6.7,"l":5.2,"h":8.7,"b0":5.6,"b1":8.0},
{"s":"25.0C","k":"b","x":2872,"y":2.9,"l":2.2,"h":3.7,"b0":2.4,"b1":3.4},
{"s":"25.0C","k":"b","x":3084,"y":1.33,"l":1.03,"h":1.72,"b0":1.12,"b1":1.58},
{"s":"25.0C","k":"b","x":3313,"y":0.6,"l":0.46,"h":0.78,"b0":0.5,"b1":0.72},
{"s":"25.0C","k":"b","x":3557,"y":0.28,"l":0.2,"h":0.36,"b0":0.23,"b1":0.34},
{"s":"25.0C","k":"c","x":374,"y":1410,"l":1180,"h":1670,"b0":1130,"b1":1740},
{"s":"25.0C","k":"c","x":464.5,"y":1130,"l":950,"h":1350,"b0":910,"b1":1410},
{"s":"25.0C","k":"c","x":721.8,"y":464,"l":391,"h":552,"b0":374,"b1":576},
{"s":"25.0C","k":"c","x":896.4,"y":399,"l":335,"h":474,"b0":321,"b1":495},
{"s":"25.0C","k":"c","x":1113,"y":259,"l":217,"h":308,"b0":208,"b1":321},
{"s":"25.0C","k":"c","x":1392,"y":102,"l":86,"h":121,"b0":82,"b1":126},
{"s":"25.0C","k":"c","x":1729,"y":208,"l":175,"h":248,"b0":168,"b1":259},
{"s":"25.0C","k":"c","x":2147,"y":276,"l":232,"h":328,"b0":222,"b1":343},
{"s":"25.0C","k":"c","x":2685,"y":102,"l":86,"h":121,"b0":82,"b1":126},
{"s":"25.0C","k":"c","x":3336,"y":21.3,"l":17.9,"h":25.4,"b0":17.1,"b1":26.5},
{"s":"25.0C","k":"c","x":4143,"y":3.5,"l":2.7,"h":4.5,"b0":2.8,"b1":4.3},
{"s":"29.5C","k":"a","x":10.15,"y":11300,"l":8650,"h":14600,"b0":7930,"b1":15200},
{"s":"29.5C","k":"a","x":11.69,"y":7930,"l":2030,"h":12800,"b0":5980,"b1":10300},
{"s":"29.5C","k":"a","x":13.45,"y":7270,"l":1940,"h":11000,"b0":5850,"b1":9040},
{"s":"29.5C","k":"a","x":15.5,"y":5600,"l":3480,"h":8650,"b0":4520,"b1":6960},
{"s":"29.5C","k":"a","x":17.84,"y":5030,"l":3640,"h":6960,"b0":4060,"b1":6250},
{"s":"29.5C","k":"a","x":20.54,"y":3970,"l":2810,"h":5600,"b0":3190,"b1":4920},
{"s":"29.5C","k":"a","x":23.65,"y":3880,"l":2810,"h":5370,"b0":3130,"b1":4820},
{"s":"29.5C","k":"a","x":27.24,"y":3720,"l":2170,"h":5730,"b0":3000,"b1":4620},
{"s":"29.5C","k":"a","x":31.36,"y":3880,"l":2120,"h":5730,"b0":3130,"b1":4820},
{"s":"29.5C","k":"a","x":36.11,"y":2930,"l":1530,"h":4330,"b0":2360,"b1":3640},
{"s":"29.5C","k":"a","x":41.58,"y":2690,"l":1380,"h":4060,"b0":2170,"b1":3330},
{"s":"29.5C","k":"a","x":47.87,"y":2690,"l":1380,"h":4060,"b0":2170,"b1":3330},
{"s":"29.5C","k":"a","x":55.13,"y":2360,"l":1230,"h":3720,"b0":1900,"b1":2930},
{"s":"29.5C","k":"a","x":63.47,"y":1860,"l":1230,"h":2810,"b0":1500,"b1":2310},
{"s":"29.5C","k":"a","x":73.09,"y":1710,"l":1060,"h":2520,"b0":1380,"b1":2120},
{"s":"29.5C","k":"a","x":84.16,"y":1940,"l":1310,"h":2810,"b0":1560,"b1":2410},
{"s":"29.5C","k":"a","x":96.91,"y":1900,"l":732,"h":2930,"b0":1530,"b1":2360},
{"s":"29.5C","k":"a","x":111.6,"y":1470,"l":399,"h":2120,"b0":1180,"b1":1820},
{"s":"29.5C","k":"a","x":128.5,"y":1060,"l":187,"h":1740,"b0":853,"b1":1310},
{"s":"29.5C","k":"a","x":147.9,"y":1160,"l":321,"h":1740,"b0":930,"b1":1440},
{"s":"29.5C","k":"a","x":170.3,"y":799,"l":161,"h":1380,"b0":552,"b1":995},
{"s":"29.5C","k":"a","x":196.2,"y":552,"l":243,"h":950,"b0":399,"b1":716},
{"s":"29.5C","k":"a","x":225.9,"y":335,"l":116,"h":576,"b0":232,"b1":445},
{"s":"29.5C","k":"a","x":260.1,"y":399,"l":135,"h":576,"b0":259,"b1":495},
{"s":"29.5C","k":"a","x":299.5,"y":335,"l":51,"h":1380,"b0":217,"b1":445},
{"s":"29.5C","k":"a","x":344.8,"y":288,"l":35,"h":495,"b0":168,"b1":382},
{"s":"29.5C","k":"a","x":397.1,"y":195,"l":0.3,"h":321,"b0":109,"b1":259},
{"s":"29.5C","k":"a","x":457.2,"y":191,"l":43,"h":321,"b0":98,"b1":259},
{"s":"29.5C","k":"a","x":526.5,"y":129,"l":0.3,"h":208,"b0":57,"b1":175},
{"s":"29.5C","k":"b","x":390,"y":615,"l":474,"h":799,"b0":517,"b1":732},
{"s":"29.5C","k":"b","x":419,"y":615,"l":474,"h":799,"b0":517,"b1":732},
{"s":"29.5C","k":"b","x":449.8,"y":615,"l":474,"h":799,"b0":517,"b1":732},
{"s":"29.5C","k":"b","x":483.1,"y":615,"l":474,"h":799,"b0":517,"b1":732},
{"s":"29.5C","k":"b","x":518.8,"y":615,"l":474,"h":799,"b0":517,"b1":732},
{"s":"29.5C","k":"b","x":557,"y":643,"l":495,"h":835,"b0":540,"b1":764},
{"s":"29.5C","k":"b","x":598.3,"y":686,"l":529,"h":890,"b0":576,"b1":817},
{"s":"29.5C","k":"b","x":642.6,"y":716,"l":552,"h":930,"b0":602,"b1":853},
{"s":"29.5C","k":"b","x":690,"y":657,"l":506,"h":853,"b0":552,"b1":782},
{"s":"29.5C","k":"b","x":741.1,"y":576,"l":445,"h":748,"b0":485,"b1":686},
{"s":"29.5C","k":"b","x":795.8,"y":506,"l":391,"h":657,"b0":426,"b1":602},
{"s":"29.5C","k":"b","x":854.5,"y":464,"l":358,"h":602,"b0":391,"b1":552},
{"s":"29.5C","k":"b","x":917.6,"y":417,"l":321,"h":540,"b0":350,"b1":495},
{"s":"29.5C","k":"b","x":985.6,"y":382,"l":294,"h":495,"b0":321,"b1":454},
{"s":"29.5C","k":"b","x":1058,"y":374,"l":288,"h":485,"b0":314,"b1":445},
{"s":"29.5C","k":"b","x":1137,"y":358,"l":276,"h":464,"b0":301,"b1":426},
{"s":"29.5C","k":"b","x":1221,"y":321,"l":248,"h":417,"b0":270,"b1":382},
{"s":"29.5C","k":"b","x":1311,"y":301,"l":232,"h":391,"b0":254,"b1":358},
{"s":"29.5C","k":"b","x":1408,"y":259,"l":199,"h":335,"b0":217,"b1":308},
{"s":"29.5C","k":"b","x":1512,"y":232,"l":179,"h":301,"b0":195,"b1":276},
{"s":"29.5C","k":"b","x":1623,"y":195,"l":151,"h":254,"b0":164,"b1":232},
{"s":"29.5C","k":"b","x":1743,"y":138,"l":98,"h":195,"b0":107,"b1":179},
{"s":"29.5C","k":"b","x":1873,"y":88,"l":63,"h":116,"b0":68,"b1":113},
{"s":"29.5C","k":"b","x":2011,"y":49,"l":31.5,"h":71,"b0":37.6,"b1":63},
{"s":"29.5C","k":"b","x":2159,"y":27.1,"l":16.4,"h":39,"b0":20.9,"b1":35},
{"s":"29.5C","k":"b","x":2319,"y":14.7,"l":6.9,"h":25.4,"b0":11.3,"b1":19.1},
{"s":"29.5C","k":"b","x":2490,"y":6.7,"l":2.3,"h":12.3,"b0":5.2,"b1":8.7},
{"s":"29.5C","k":"b","x":2674,"y":3.1,"l":0.95,"h":5.5,"b0":2.4,"b1":4.1},
{"s":"29.5C","k":"b","x":2872,"y":1.58,"l":0.3,"h":2.7,"b0":1.22,"b1":2.0},
{"s":"29.5C","k":"b","x":3084,"y":0.67,"l":0.2,"h":1.58,"b0":0.5,"b1":0.9},
{"s":"29.5C","k":"b","x":3313,"y":0.31,"l":0.1,"h":0.8,"b0":0.22,"b1":0.42},
{"s":"29.5C","k":"b","x":3557,"y":0.13,"l":0.05,"h":0.3,"b0":0.09,"b1":0.18},
{"s":"29.5C","k":"c","x":374,"y":1130,"l":950,"h":1350,"b0":910,"b1":1410},
{"s":"29.5C","k":"c","x":464.5,"y":910,"l":764,"h":1080,"b0":732,"b1":1130},
{"s":"29.5C","k":"c","x":721.8,"y":374,"l":314,"h":445,"b0":301,"b1":464},
{"s":"29.5C","k":"c","x":896.4,"y":374,"l":314,"h":445,"b0":301,"b1":464},
{"s":"29.5C","k":"c","x":1113,"y":222,"l":187,"h":264,"b0":179,"b1":276},
{"s":"29.5C","k":"c","x":1392,"y":88,"l":74,"h":104,"b0":71,"b1":109},
{"s":"29.5C","k":"c","x":1729,"y":168,"l":141,"h":199,"b0":135,"b1":208},
{"s":"29.5C","k":"c","x":2147,"y":243,"l":204,"h":288,"b0":195,"b1":301},
{"s":"29.5C","k":"c","x":2685,"y":82,"l":63,"h":107,"b0":66,"b1":102},
{"s":"29.5C","k":"c","x":3336,"y":13.8,"l":8.0,"h":21.3,"b0":10.6,"b1":17.9},
{"s":"29.5C","k":"c","x":4143,"y":2.0,"l":0.99,"h":2.9,"b0":1.58,"b1":2.6}
]},
"data":{"name":"d"},
"encoding":{
  "x":{"field":"x","type":"quantitative","scale":{"type":"log","domain":[10,4661],"nice":false},
    "axis":{"values":[10,20,30,40,50,60,70,80,90,100,200,300,400,500,600,700,800,900,1000,2000,3000,4000],
      "labelExpr":"datum.value==10?'10¹':datum.value==100?'10²':datum.value==1000?'10³':''",
      "labelOverlap":false,"labelFlush":false,"labelFont":"Liberation Sans","labelFontSize":28,"labelColor":"#262626","labelPadding":17,
      "grid":true,"gridColor":"#c4c4c4","gridWidth":1.5,
      "gridOpacity":{"condition":{"test":"datum.value==10||datum.value==100||datum.value==1000","value":1},"value":0},
      "tickSize":{"condition":{"test":"datum.value==10||datum.value==100||datum.value==1000","value":7},"value":4},
      "tickColor":"#262626","tickWidth":1.2,
      "title":"Diameter [nm]","titleFont":"Liberation Sans","titleFontSize":28,"titleFontWeight":"normal","titleColor":"#262626","titlePadding":8}},
  "color":{"field":"s","type":"nominal",
    "scale":{"domain":["2.5C","5.0C","9.25C","13.25C","19.5C","25.0C","29.5C"],"range":["#bf00bf","#0000ff","#00bfbf","#008000","#bfbf00","#ff0000","#000000"]},
    "legend":{"orient":"none","legendX":14,"legendY":271,"title":null,
      "symbolType":"M-1.3,0H4.0M1.75,0A0.35,0.35,0,1,1,1.05,0A0.35,0.35,0,1,1,1.75,0Z",
      "symbolSize":400,"symbolStrokeWidth":3,"symbolOpacity":0.6,
      "labelFont":"Liberation Sans","labelFontSize":23,"labelColor":"#262626","labelOffset":48,
      "rowPadding":11,"padding":8,"fillColor":"rgba(255,255,255,0.85)","strokeColor":"#cccccc","cornerRadius":5,
      "encode":{"symbols":{"update":{"fill":{"scale":"color","field":"value"},"stroke":{"scale":"color","field":"value"}}}}}}
},
"layer":[
  {"mark":{"type":"area","opacity":0.2,"clip":true},
   "encoding":{"y":{"field":"b0","type":"quantitative","scale":{"type":"log","domain":[1,100000],"nice":false},"title":"dN/dLog(Dp) [cm⁻³]",
      "axis":{"values":[1,2,3,4,5,6,7,8,9,10,20,30,40,50,60,70,80,90,100,200,300,400,500,600,700,800,900,1000,2000,3000,4000,5000,6000,7000,8000,9000,10000,20000,30000,40000,50000,60000,70000,80000,90000,100000],
        "labelExpr":"datum.value==1?'10⁰':datum.value==10?'10¹':datum.value==100?'10²':datum.value==1000?'10³':datum.value==10000?'10⁴':datum.value==100000?'10⁵':''",
        "labelOverlap":false,"labelFlush":false,"labelFont":"Liberation Sans","labelFontSize":28,"labelColor":"#262626","labelPadding":8,"labelOffset":5,
        "grid":true,"gridColor":"#c4c4c4","gridWidth":1.5,
        "gridOpacity":{"condition":{"test":"datum.value==1||datum.value==10||datum.value==100||datum.value==1000||datum.value==10000||datum.value==100000","value":1},"value":0},
        "tickSize":{"condition":{"test":"datum.value==1||datum.value==10||datum.value==100||datum.value==1000||datum.value==10000||datum.value==100000","value":7},"value":4},
        "tickColor":"#262626","tickWidth":1.2,
        "titleFont":"Liberation Sans","titleFontSize":28,"titleFontWeight":"normal","titleColor":"#262626","titlePadding":10}},
     "y2":{"field":"b1"},"detail":{"field":"k"}}},
  {"mark":{"type":"line","opacity":0.5,"strokeWidth":4,"clip":true},
   "encoding":{"y":{"field":"y","type":"quantitative","title":"dN/dLog(Dp) [cm⁻³]"},"detail":{"field":"k"}}},
  {"mark":{"type":"rule","strokeWidth":2.5,"clip":true},
   "encoding":{"y":{"field":"l","type":"quantitative","title":"dN/dLog(Dp) [cm⁻³]"},"y2":{"field":"h"}}},
  {"mark":{"type":"point","filled":true,"opacity":1,"clip":true},
   "encoding":{"y":{"field":"y","type":"quantitative","title":"dN/dLog(Dp) [cm⁻³]"},
     "shape":{"field":"k","type":"nominal","scale":{"domain":["a","b","c"],"range":["circle","circle","square"]},"legend":null},
     "size":{"field":"k","type":"nominal","scale":{"domain":["a","b","c"],"range":[115,90,110]},"legend":null}}}
]
}
